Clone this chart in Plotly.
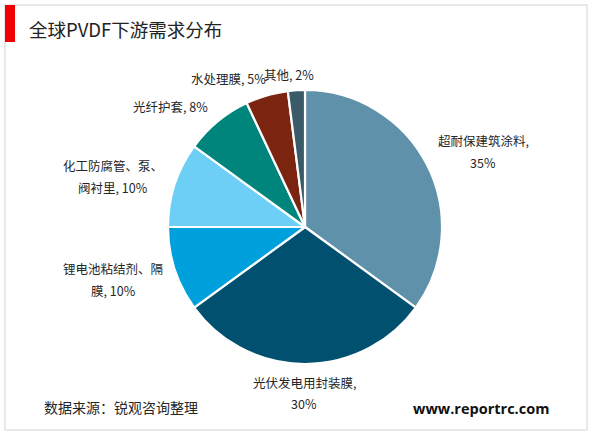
#! /usr/bin/env python3

import plotly.graph_objects as go

W = 600
H = 433
FONT = "Noto Sans CJK SC"

categories = ["超耐保建筑涂料", "光伏发电用封装膜", "锂电池粘结剂、隔膜", "化工防腐管、泵、阀衬里", "光纤护套", "水处理膜", "其他"]
shares = [35, 30, 10, 10, 8, 5, 2]
colors = ["#5f92aa", "#01506f", "#00a0dc", "#6dcff6", "#00857c", "#7b2510", "#3a5a68"]

# label lines as wrapped in the picture, one annotation per line because the
# reference has wider line spacing than plotly's <br>
label_lines = [
    ("超耐保建筑涂料,", 483, 140),
    ("35%", 483, 162),
    ("光伏发电用封装膜,", 304, 382),
    ("30%", 304, 403),
    ("锂电池粘结剂、隔", 113, 268),
    ("膜, 10%", 113, 290),
    ("化工防腐管、泵、", 113, 166),
    ("阀衬里, 10%", 113, 187),
    ("光纤护套, 8%", 171, 106),
    ("水处理膜, 5%", 228, 79),
    ("其他, 2%", 289, 74),
]


def px(x):
    return x / W


def py(y):
    return 1 - y / H


fig = go.Figure()

fig.add_trace(go.Pie(
    labels=categories,
    values=shares,
    sort=False,
    direction="clockwise",
    rotation=0,
    textinfo="none",
    hoverinfo="label+percent",
    showlegend=False,
    marker=dict(colors=colors, line=dict(color="white", width=2.2)),
    domain=dict(x=[px(168), px(442)], y=[py(364), py(90)]),
))

annotations = []
for text, x, y in label_lines:
    annotations.append(dict(
        x=px(x), y=py(y), xref="paper", yref="paper", text=text, showarrow=False,
        xanchor="center", yanchor="middle", align="center",
        font=dict(family=FONT, size=12.5, color="#262626"),
    ))

annotations.append(dict(
    x=px(27), y=py(29), xref="paper", yref="paper", text="全球PVDF下游需求分布", showarrow=False,
    xanchor="left", yanchor="middle", font=dict(family=FONT, size=18.5, color="#222222"),
))
annotations.append(dict(
    x=px(42), y=py(407), xref="paper", yref="paper", text="数据来源：锐观咨询整理", showarrow=False,
    xanchor="left", yanchor="middle", font=dict(family=FONT, size=14, color="#262626"),
))
annotations.append(dict(
    x=px(481), y=py(408), xref="paper", yref="paper", text="<b>www.reportrc.com</b>", showarrow=False,
    xanchor="center", yanchor="middle", font=dict(family="Open Sans", size=14.5, color="#111111"),
))

shapes = [
    dict(type="rect", xref="paper", yref="paper", x0=px(5), x1=px(587), y0=py(430), y1=py(5),
         line=dict(color="#e2e2e2", width=1.5), fillcolor="white", layer="below"),
    dict(type="rect", xref="paper", yref="paper", x0=px(5), x1=px(15), y0=py(42), y1=py(5),
         line=dict(width=0), fillcolor="#f00000"),
]

fig.update_layout(
    width=W,
    height=H,
    margin=dict(l=0, r=0, t=0, b=0),
    paper_bgcolor="white",
    annotations=annotations,
    shapes=shapes,
)

# the page's default body margin would push the figure 8px off
fig.write_html("out.html", config=dict(displayModeBar=False), post_script="document.body.style.margin='0';")
